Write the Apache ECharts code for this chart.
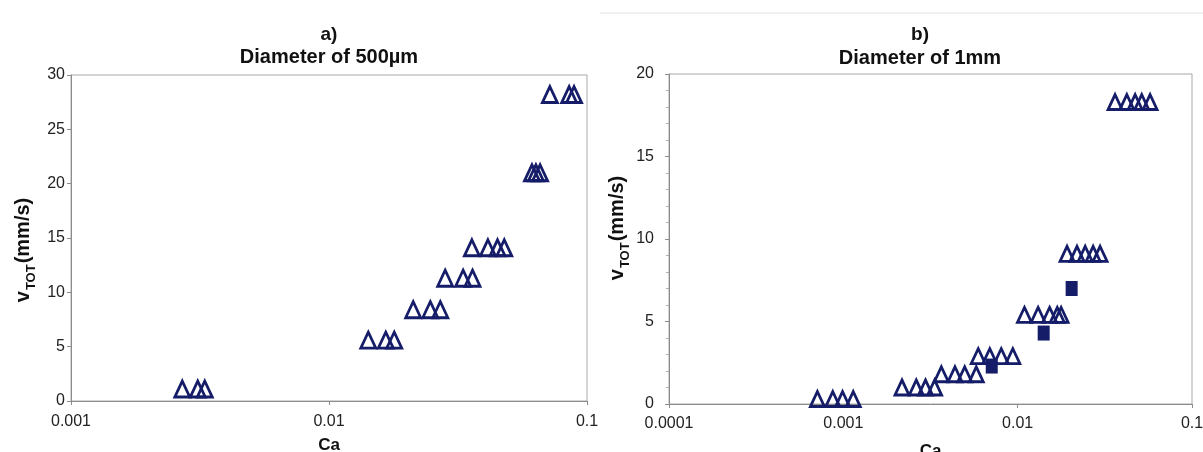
<!DOCTYPE html>
<html>
<head>
<meta charset="utf-8">
<script src="https://cdn.jsdelivr.net/npm/echarts@6/dist/echarts.min.js"></script>
<style>
  html, body { margin: 0; padding: 0; background: #fff; }
  #chart { width: 1203px; height: 452px; }
</style>
</head>
<body>
<div id="chart"></div>
<script>
// Panel a) — 500 µm channel: capillary number vs total velocity
const caA = [0.0027, 0.0031, 0.0033,
             0.0142, 0.0166, 0.0179,
             0.0212, 0.0247, 0.0270,
             0.0282, 0.0331, 0.0360,
             0.0358, 0.0413, 0.0450, 0.0478,
             0.0612, 0.0634, 0.0658,
             0.0718, 0.0853, 0.0891];
const vA  = [1.1, 1.1, 1.1,
             5.6, 5.6, 5.6,
             8.4, 8.4, 8.4,
             11.3, 11.3, 11.3,
             14.1, 14.1, 14.1, 14.1,
             21.0, 21.0, 21.0,
             28.2, 28.2, 28.2];

// Panel b) — 1 mm channel, open triangles
const caB = [0.00071, 0.00087, 0.00099, 0.00114,
             0.00217, 0.00262, 0.00296, 0.00334,
             0.00365, 0.00437, 0.00497, 0.00579,
             0.00594, 0.00692, 0.00805, 0.00938,
             0.01094, 0.0131, 0.01525, 0.01687, 0.01775,
             0.0192, 0.0219, 0.0244, 0.0271, 0.0297,
             0.0362, 0.0423, 0.0472, 0.0515, 0.0575];
const vB  = [0.3, 0.3, 0.3, 0.3,
             1.0, 1.0, 1.0, 1.0,
             1.8, 1.8, 1.8, 1.8,
             2.9, 2.9, 2.9, 2.9,
             5.4, 5.4, 5.4, 5.4, 5.4,
             9.1, 9.1, 9.1, 9.1, 9.1,
             18.3, 18.3, 18.3, 18.3, 18.3];

// Panel b) — 1 mm channel, filled squares
const caSq = [0.0071, 0.0141, 0.0204];
const vSq  = [2.3, 4.3, 7.0];

// Tick labels
const xTicksA = ['0.001', '0.01', '0.1'];
const xTicksB = ['0.0001', '0.001', '0.01', '0.1'];
const yMaxA = 30, yMaxB = 20, yStep = 5;

const titlesA = ['a)', 'Diameter of 500\u00b5m'];
const titlesB = ['b)', 'Diameter of 1mm'];
const xName = 'Ca';

const FONT = "'Liberation Sans', Arial, Helvetica, sans-serif";
const NAVY = '#151c68';
const AXIS = '#8c8c8c';

function pairs(xs, ys) { return xs.map((x, i) => [x, ys[i]]); }

function tickFormatter(labels) {
  return function (v) {
    const hit = labels.find(l => Math.abs(Math.log10(parseFloat(l)) - Math.log10(v)) < 1e-6);
    return hit || '';
  };
}

const yNameRich = {
  v: { fontSize: 20, fontWeight: 'bold', fontFamily: FONT, color: '#111', verticalAlign: 'bottom', padding: [0, 0, 5, 0] },
  s: { fontSize: 13, fontWeight: 'bold', fontFamily: FONT, color: '#111', verticalAlign: 'bottom', padding: [0, 1, 0, 1] },
  u: { fontSize: 20, fontWeight: 'bold', fontFamily: FONT, color: '#111', verticalAlign: 'bottom', padding: [0, 0, 5, 0] }
};

function xAxisCfg(gridIndex, min, labels, labelMargin, gap) {
  return {
    type: 'log', logBase: 10, gridIndex, min, max: 0.1,
    name: xName, nameLocation: 'middle', nameGap: gap,
    nameTextStyle: { fontFamily: FONT, fontSize: 17, fontWeight: 'bold', color: '#111' },
    axisLine: { show: true, lineStyle: { color: AXIS, width: 1 } },
    axisTick: { show: true, length: 4, lineStyle: { color: AXIS } },
    minorTick: { show: false },
    splitLine: { show: false },
    axisLabel: { fontFamily: FONT, fontSize: 16, color: '#222', margin: labelMargin,
                 formatter: tickFormatter(labels), showMinLabel: true, showMaxLabel: true }
  };
}

function yAxisCfg(gridIndex, max, gap, labelMargin, minor, namePad) {
  return {
    type: 'value', gridIndex, min: 0, max, interval: yStep,
    name: '{v|v}{s|TOT}{u|(mm/s)}', nameLocation: 'middle', nameGap: gap,
    nameTextStyle: { rich: yNameRich, padding: namePad },
    axisLine: { show: true, lineStyle: { color: AXIS, width: 1 } },
    axisTick: { show: true, length: 4, lineStyle: { color: AXIS } },
    minorTick: minor ? { show: true, splitNumber: 5, length: 3, lineStyle: { color: '#b0b0b0' } } : { show: false },
    splitLine: { show: false },
    axisLabel: { fontFamily: FONT, fontSize: 16, color: '#222', margin: labelMargin }
  };
}

const triStyle = { color: 'rgba(0,0,0,0)', borderColor: NAVY, borderWidth: 2.8, opacity: 1 };

const chart = echarts.init(document.getElementById('chart'), null, { renderer: 'canvas' });

chart.setOption({
  backgroundColor: '#fff',
  animation: false,
  grid: [
    { left: 71, top: 75, width: 516, height: 326, containLabel: false, outerBoundsMode: 'none',
      show: true, borderColor: '#a8a8a8', borderWidth: 1, backgroundColor: '#fff' },
    { left: 669, top: 74, width: 523, height: 330, containLabel: false, outerBoundsMode: 'none',
      show: true, borderColor: '#a8a8a8', borderWidth: 1, backgroundColor: '#fff' }
  ],
  xAxis: [ xAxisCfg(0, 0.001, xTicksA, 13, 36), xAxisCfg(1, 0.0001, xTicksB, 12, 39) ],
  yAxis: [ yAxisCfg(0, yMaxA, 33, 6, false, [0, 24, 0, 0]), yAxisCfg(1, yMaxB, 31, 15, true, [0, 0, 0, 22]) ],
  series: [
    { type: 'scatter', xAxisIndex: 0, yAxisIndex: 0, data: pairs(caA, vA),
      symbol: 'triangle', symbolSize: [15, 16], itemStyle: triStyle },
    { type: 'scatter', xAxisIndex: 1, yAxisIndex: 1, data: pairs(caB, vB),
      symbol: 'triangle', symbolSize: [14, 15], itemStyle: triStyle },
    { type: 'scatter', xAxisIndex: 1, yAxisIndex: 1, data: pairs(caSq, vSq),
      symbol: 'rect', symbolSize: [12, 15], itemStyle: { color: NAVY, opacity: 1 } }
  ],
  graphic: [
    { type: 'line', shape: { x1: 600, y1: 13, x2: 1203, y2: 13 }, style: { stroke: '#e2e2e2', lineWidth: 1 }, silent: true },
    { type: 'text', x: 329, y: 35, style: { text: titlesA[0], font: 'bold 19px ' + FONT, fill: '#111', align: 'center', verticalAlign: 'middle', textAlign: 'center', textVerticalAlign: 'middle' } },
    { type: 'text', x: 329, y: 57, style: { text: titlesA[1], font: 'bold 20px ' + FONT, fill: '#111', align: 'center', verticalAlign: 'middle', textAlign: 'center', textVerticalAlign: 'middle' } },
    { type: 'text', x: 920, y: 35, style: { text: titlesB[0], font: 'bold 19px ' + FONT, fill: '#111', align: 'center', verticalAlign: 'middle', textAlign: 'center', textVerticalAlign: 'middle' } },
    { type: 'text', x: 920, y: 58, style: { text: titlesB[1], font: 'bold 20px ' + FONT, fill: '#111', align: 'center', verticalAlign: 'middle', textAlign: 'center', textVerticalAlign: 'middle' } }
  ]
});
</script>
</body>
</html>
